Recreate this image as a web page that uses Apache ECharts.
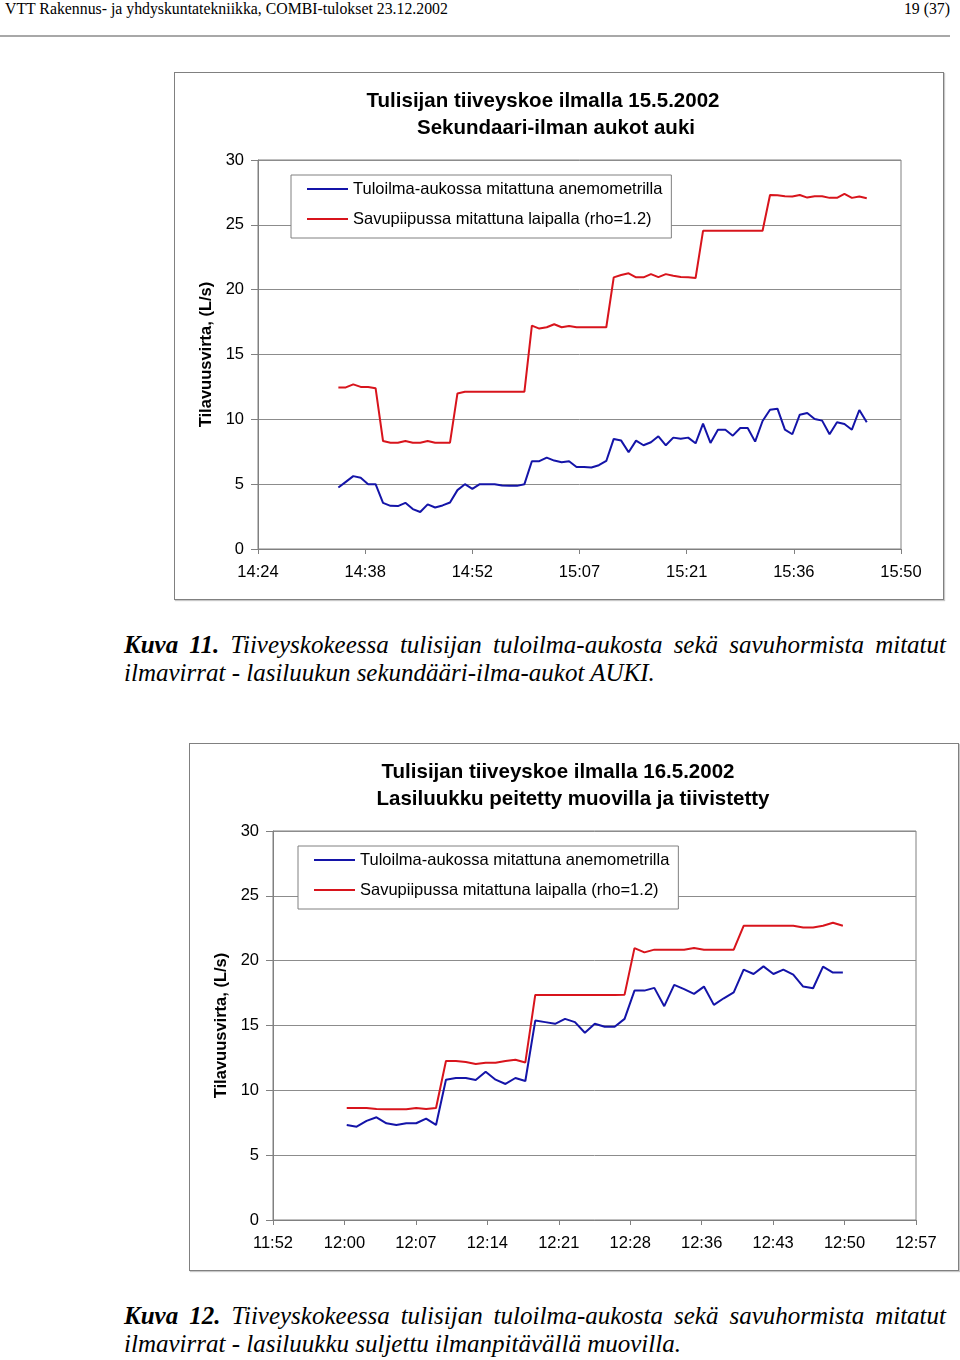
<!DOCTYPE html>
<html>
<head>
<meta charset="utf-8">
<script src="https://cdn.jsdelivr.net/npm/echarts@6/dist/echarts.min.js"></script>
<style>
  html, body { margin: 0; padding: 0; background: #fff; }
  #page { position: relative; width: 960px; height: 1360px; background: #fff; overflow: hidden; }
  .hdr { position: absolute; top: 0; font-family: 'Liberation Serif', serif; font-size: 15.8px; line-height: 18px; color: #000; white-space: nowrap; }
  .rule { position: absolute; left: 0; top: 35px; width: 950px; height: 2px; background: #a8a8a8; }
  .chart { position: absolute; width: 770px; height: 528px; box-sizing: border-box; border: 1px solid #808080; box-shadow: 1px 1px 1px #c8c8c8; background: #fff; }
  .cap { position: absolute; left: 124px; width: 822px; font-family: 'Liberation Serif', serif; font-style: italic; font-size: 25px; line-height: 28px; color: #000; }
  .cap .l1 { text-align: justify; text-align-last: justify; white-space: nowrap; }
  .cap .l2 { text-align: left; white-space: nowrap; }
  .cap b { font-style: italic; font-weight: bold; }
</style>
</head>
<body>
<div id="page">
  <div class="hdr" style="left:5px;">VTT Rakennus- ja yhdyskuntatekniikka, COMBI-tulokset 23.12.2002</div>
  <div class="hdr" style="right:10px;">19 (37)</div>
  <div class="rule"></div>

  <div id="c1" class="chart" style="left:174px; top:72px;"></div>
  <div class="cap" style="top:631px;">
    <div class="l1"><b>Kuva 11.</b> Tiiveyskokeessa tulisijan tuloilma-aukosta sekä savuhormista mitatut</div>
    <div class="l2">ilmavirrat - lasiluukun sekundääri-ilma-aukot AUKI.</div>
  </div>

  <div id="c2" class="chart" style="left:189px; top:743px;"></div>
  <div class="cap" style="top:1302px;">
    <div class="l1"><b>Kuva 12.</b> Tiiveyskokeessa tulisijan tuloilma-aukosta sekä savuhormista mitatut</div>
    <div class="l2">ilmavirrat - lasiluukku suljettu ilmanpitävällä muovilla.</div>
  </div>
</div>
<script>
// ---------- Chart 1 data (15.5.2002) ----------
const c1Title1 = 'Tulisijan tiiveyskoe ilmalla 15.5.2002';
const c1Title2 = 'Sekundaari-ilman aukot auki';
const c1TickLabels = ['14:24', '14:38', '14:52', '15:07', '15:21', '15:36', '15:50'];
const c1AxisMinutes = 86.4;      // 14:24 .. 15:50.4
const c1TickStep = 14.4;         // minutes between labelled ticks
const c1FirstMinute = 10.8;      // first sample, minutes after 14:24 (one sample per minute)
const c1Blue = [
  4.74, 5.18, 5.62, 5.49, 5.0, 5.0, 3.56, 3.33, 3.31, 3.56,
  3.08, 2.85, 3.44, 3.2, 3.36, 3.59, 4.54, 5.0, 4.64, 5.0,
  5.0, 5.0, 4.9, 4.87, 4.87, 5.0, 6.77, 6.77, 7.05, 6.82,
  6.69, 6.77, 6.33, 6.33, 6.28, 6.46, 6.79, 8.49, 8.36, 7.46,
  8.36, 8.0, 8.23, 8.69, 8.0, 8.59, 8.51, 8.59, 8.15, 9.67,
  8.18, 9.2, 9.2, 8.74, 9.33, 9.33, 8.28, 9.87, 10.74, 10.82,
  9.2, 8.85, 10.36, 10.49, 10.03, 9.9, 8.85, 9.77, 9.64, 9.2,
  10.72, 9.77
];
const c1Red = [
  12.46, 12.46, 12.7, 12.5, 12.5, 12.4, 8.33, 8.2, 8.2, 8.33,
  8.2, 8.2, 8.33, 8.2, 8.2, 8.2, 12.0, 12.13, 12.13, 12.13,
  12.13, 12.13, 12.13, 12.13, 12.13, 12.13, 17.23, 17.0, 17.1, 17.33,
  17.1, 17.2, 17.1, 17.1, 17.1, 17.1, 17.1, 20.95, 21.13, 21.26,
  20.95, 20.95, 21.2, 20.97, 21.2, 21.08, 20.97, 20.95, 20.9, 24.54,
  24.54, 24.54, 24.54, 24.54, 24.54, 24.54, 24.54, 24.54, 27.3, 27.28,
  27.2, 27.18, 27.3, 27.1, 27.2, 27.2, 27.08, 27.08, 27.38, 27.08,
  27.18, 27.05
];

// ---------- Chart 2 data (16.5.2002) ----------
const c2Title1 = 'Tulisijan tiiveyskoe ilmalla 16.5.2002';
const c2Title2 = 'Lasiluukku peitetty muovilla ja tiivistetty';
const c2TickLabels = ['11:52', '12:00', '12:07', '12:14', '12:21', '12:28', '12:36', '12:43', '12:50', '12:57'];
const c2AxisMinutes = 64.8;      // 11:52.8 .. 12:57.6
const c2TickStep = 7.2;
const c2FirstMinute = 7.43;      // first sample, minutes after 11:52.8
const c2Blue = [
  7.33, 7.2, 7.64, 7.92, 7.46, 7.33, 7.46, 7.46, 7.82, 7.33,
  10.82, 10.95, 10.95, 10.79, 11.44, 10.82, 10.49, 10.95, 10.72, 15.38,
  15.26, 15.13, 15.51, 15.26, 14.44, 15.13, 14.9, 14.9, 15.51, 17.69,
  17.69, 17.9, 16.49, 18.13, 17.8, 17.44, 18.0, 16.59, 17.1, 17.56,
  19.31, 18.97, 19.56, 18.97, 19.31, 18.92, 18.0, 17.87, 19.54, 19.08,
  19.08
];
const c2Red = [
  8.64, 8.64, 8.64, 8.56, 8.54, 8.54, 8.54, 8.64, 8.56, 8.64,
  12.26, 12.26, 12.18, 12.03, 12.13, 12.13, 12.26, 12.36, 12.15, 17.36,
  17.36, 17.36, 17.36, 17.36, 17.36, 17.36, 17.36, 17.36, 17.38, 20.97,
  20.64, 20.85, 20.85, 20.85, 20.85, 20.97, 20.85, 20.85, 20.85, 20.85,
  22.69, 22.69, 22.69, 22.69, 22.69, 22.69, 22.56, 22.56, 22.69, 22.92,
  22.69
];

const seriesNames = ['Tuloilma-aukossa mitattuna anemometrilla', 'Savupiipussa mitattuna laipalla (rho=1.2)'];
const yName = 'Tilavuusvirta, (L/s)';
const yTicks = { min: 0, max: 30, step: 5 };

const FONT = "'Liberation Sans', Arial, sans-serif";
const BLUE = '#1414a8';
const RED = '#d8141c';
const GRID_GRAY = '#8c8c8c';

function toXY(values, first) {
  return values.map((v, i) => [first + i, v]);
}

function makeOption(t1, t2, t1x, t2x, tickLabels, axisMax, step, first, blue, red, legendLeft) {
  return {
    animation: false,
    backgroundColor: '#fff',
    title: [
      { text: t1, left: t1x, top: 13, textAlign: 'center',
        textStyle: { fontFamily: FONT, fontSize: 20.5, fontWeight: 'bold', color: '#000' } },
      { text: t2, left: t2x, top: 40, textAlign: 'center',
        textStyle: { fontFamily: FONT, fontSize: 20.5, fontWeight: 'bold', color: '#000' } }
    ],
    legend: {
      orient: 'vertical',
      left: legendLeft, top: 102,
      padding: [5, 9, 10, 16],
      itemGap: 12,
      itemWidth: 41, itemHeight: 2,
      icon: 'rect',
      backgroundColor: '#fff',
      borderColor: '#808080', borderWidth: 1, borderRadius: 0,
      textStyle: { fontFamily: FONT, fontSize: 16.5, color: '#000', lineHeight: 18 },
      data: seriesNames
    },
    grid: { left: 83, top: 87, width: 643, height: 389, show: true, borderColor: '#808080', borderWidth: 1, backgroundColor: 'transparent' },
    xAxis: {
      type: 'value', min: 0, max: axisMax, interval: step,
      axisLine: { show: true, onZero: false, lineStyle: { color: '#808080', width: 1 } },
      axisTick: { show: true, inside: false, length: 5, lineStyle: { color: '#808080' } },
      splitLine: { show: false },
      axisLabel: {
        margin: 15, fontFamily: FONT, fontSize: 16.5, color: '#000', showMaxLabel: true, showMinLabel: true,
        formatter: v => tickLabels[Math.round(v / step)] || ''
      }
    },
    yAxis: {
      type: 'value', min: yTicks.min, max: yTicks.max, interval: yTicks.step,
      name: yName, nameLocation: 'middle', nameGap: 42, nameRotate: 90,
      nameTextStyle: { fontFamily: FONT, fontSize: 16.5, fontWeight: 'bold', color: '#000' },
      axisLine: { show: true, lineStyle: { color: '#808080', width: 1 } },
      axisTick: { show: true, inside: false, length: 7, lineStyle: { color: '#808080' } },
      splitLine: { show: true, lineStyle: { color: GRID_GRAY, width: 1 } },
      axisLabel: { margin: 14, fontFamily: FONT, fontSize: 16.5, color: '#000' }
    },
    series: [
      { name: seriesNames[0], type: 'line', data: toXY(blue, first), showSymbol: false, symbol: 'none',
        lineStyle: { color: BLUE, width: 2 }, itemStyle: { color: BLUE }, z: 3 },
      { name: seriesNames[1], type: 'line', data: toXY(red, first), showSymbol: false, symbol: 'none',
        lineStyle: { color: RED, width: 2 }, itemStyle: { color: RED }, z: 3 }
    ]
  };
}

const ch1 = echarts.init(document.getElementById('c1'), null, { renderer: 'canvas', width: 768, height: 526 });
ch1.setOption(makeOption(c1Title1, c1Title2, 363, 376, c1TickLabels, c1AxisMinutes, c1TickStep, c1FirstMinute, c1Blue, c1Red, 116));

const ch2 = echarts.init(document.getElementById('c2'), null, { renderer: 'canvas', width: 768, height: 526 });
ch2.setOption(makeOption(c2Title1, c2Title2, 363, 378, c2TickLabels, c2AxisMinutes, c2TickStep, c2FirstMinute, c2Blue, c2Red, 108));
</script>
</body>
</html>
